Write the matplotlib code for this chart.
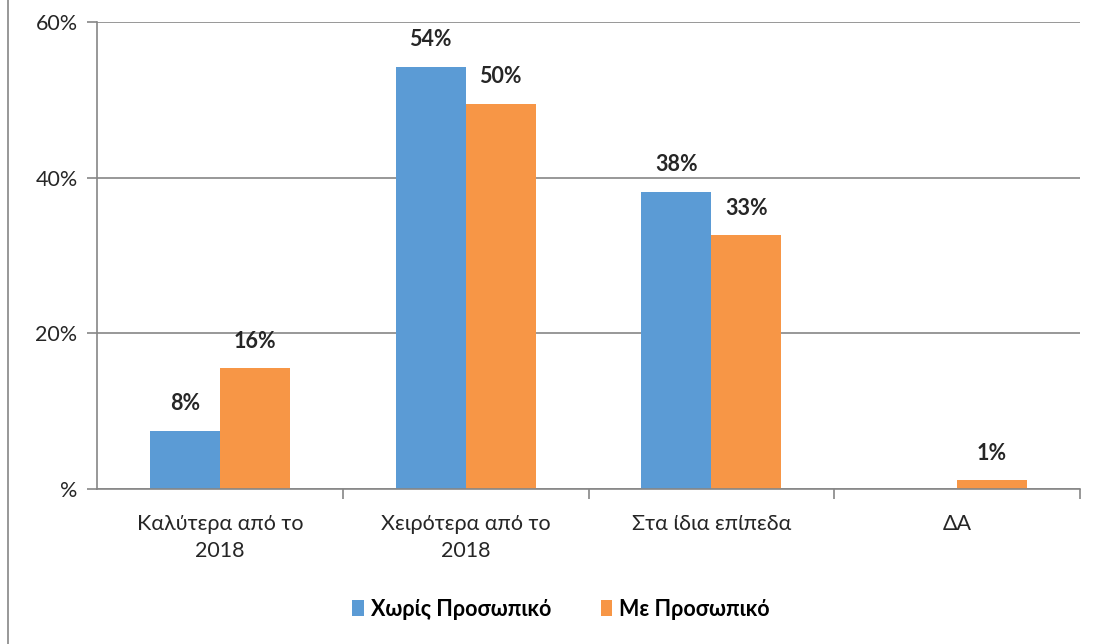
import numpy as np
import matplotlib.pyplot as plt
from matplotlib.lines import Line2D

plt.rcParams['font.family'] = ['Lato', 'DejaVu Sans']

# Δεδομένα
κατηγορίες = ["Καλύτερα από το\n2018", "Χειρότερα από το\n2018", "Στα ίδια επίπεδα", "ΔΑ"]
χωρίς = [7.5, 54.2, 38.2, 0]
με = [15.5, 49.5, 32.6, 1.1]
ετικέτες_χωρίς = ["8%", "54%", "38%", ""]
ετικέτες_με = ["16%", "50%", "33%", "1%"]
σειρές = ["Χωρίς Προσωπικό", "Με Προσωπικό"]

μπλε = "#5B9BD5"
πορτοκαλί = "#F79646"
γκρι = "#868686"

fig = plt.figure(figsize=(10.94, 6.44), dpi=100)
ax = fig.add_axes([97/1094, 1 - 489/644, (1080-97)/1094, (489-22)/644])

x = np.arange(len(κατηγορίες))
w = 0.285
b1 = ax.bar(x - w/2, χωρίς, w, color=μπλε, label=σειρές[0])
b2 = ax.bar(x + w/2, με, w, color=πορτοκαλί, label=σειρές[1])

for bars, labels in [(b1, ετικέτες_χωρίς), (b2, ετικέτες_με)]:
    for r, t in zip(bars, labels):
        if t:
            ax.annotate(t, (r.get_x() + r.get_width()/2, r.get_height()),
                        xytext=(0, 12), textcoords="offset points",
                        ha="center", va="bottom", fontsize=15.5, fontweight="bold",
                        color="#262626")

ax.set_xlim(-0.5, 3.5)
ax.set_ylim(0, 60)
ax.set_yticks([0, 20, 40, 60])
ax.set_yticklabels(["%", "20%", "40%", "60%"], fontsize=15.5, color="#262626")
ax.grid(axis="y", color=γκρι, linewidth=1.2)
ax.set_axisbelow(True)

ax.set_xticks(x)
ax.set_xticklabels(κατηγορίες, fontsize=15.5, color="#262626", linespacing=1.45)
ax.tick_params(axis="x", length=0, pad=18)
ax.set_xticks([0.5, 1.5, 2.5, 3.5], minor=True)
ax.tick_params(axis="x", which="minor", length=7, color=γκρι, width=1.2)
ax.tick_params(axis="y", length=7, color=γκρι, width=1.2, pad=7)

for s in ["top", "right"]:
    ax.spines[s].set_visible(False)
for s in ["left", "bottom"]:
    ax.spines[s].set_color(γκρι)
    ax.spines[s].set_linewidth(1.2)

fig.legend(handles=[b1, b2], loc="center", bbox_to_anchor=(561/1094, 1 - 609/644),
           ncol=2, frameon=False, handlelength=0.55, handleheight=0.75,
           handletextpad=0.3, columnspacing=2.3,
           prop={"size": 15.5, "weight": "bold"})

# αριστερό περίγραμμα
fig.add_artist(Line2D([8/1094, 8/1094], [0, 1], color=γκρι, linewidth=1.2))

fig.savefig("out.png", dpi=100)
